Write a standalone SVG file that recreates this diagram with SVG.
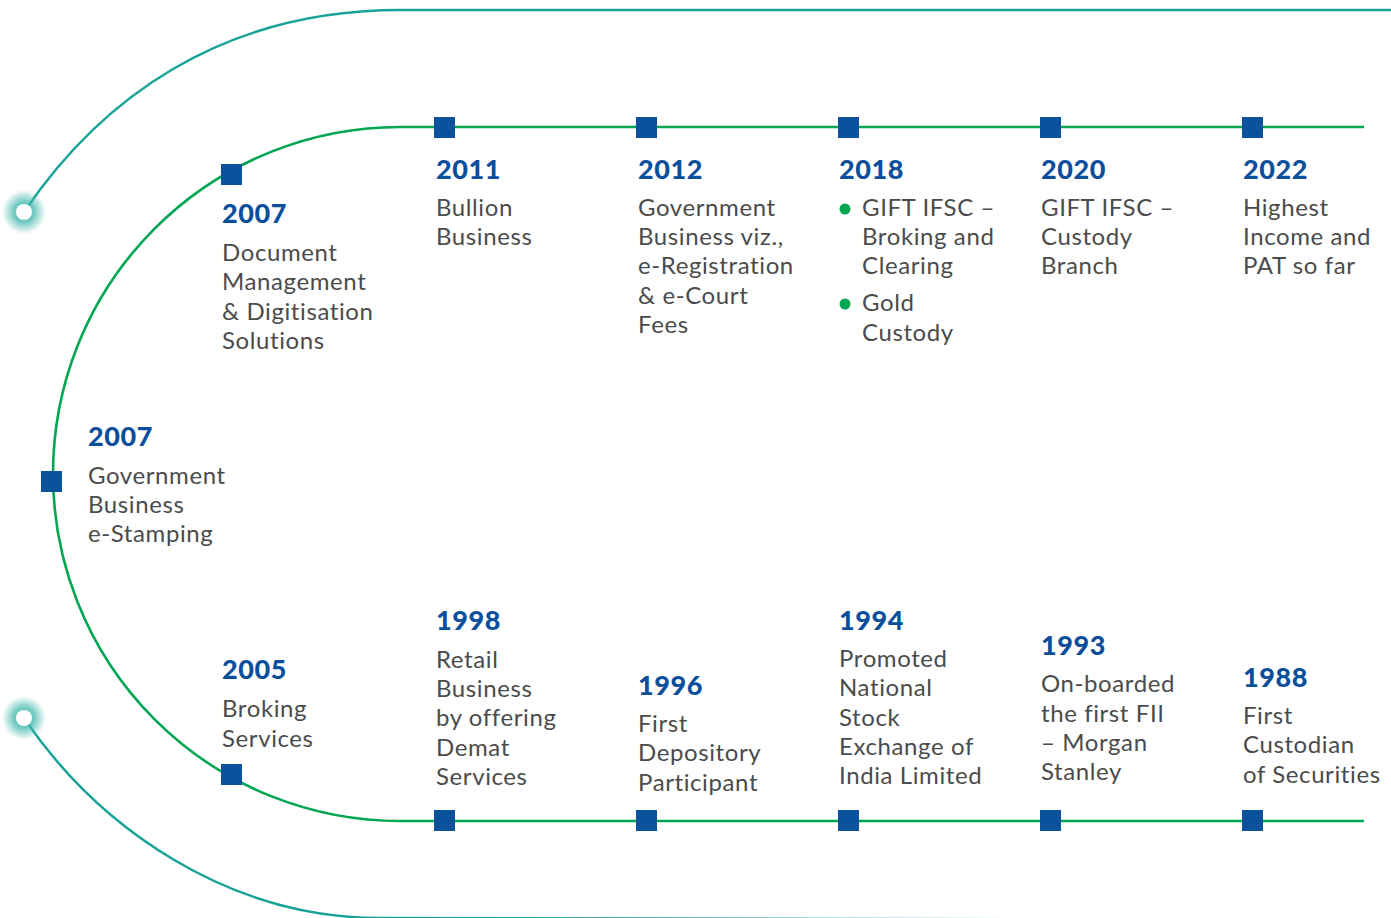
<svg xmlns="http://www.w3.org/2000/svg" width="1391" height="918" viewBox="0 0 1391 918">
<defs>
<radialGradient id="glow" cx="0.5" cy="0.5" r="0.5">
<stop offset="0" stop-color="#3fb7ab" stop-opacity="0.9"/>
<stop offset="0.45" stop-color="#3fb7ab" stop-opacity="0.75"/>
<stop offset="1" stop-color="#3fb7ab" stop-opacity="0"/>
</radialGradient>
</defs>
<style>
.teal{fill:none;stroke:#17a398;stroke-width:2.5}
.green{fill:none;stroke:#00a651;stroke-width:2.6}
.sq{fill:#0b519c}
.yr{font-family:Lato,"Liberation Sans",sans-serif;font-weight:900;font-size:27px;fill:#0b4f9c;letter-spacing:0.6px}
.tx{font-family:Lato,"Liberation Sans",sans-serif;font-size:24px;fill:#4b4b4b;letter-spacing:0.6px}
.dot{fill:#00a651}
</style>
<rect width="1391" height="918" fill="#ffffff"/>
<g id="connectors">
<path class="teal" d="M 24 212 C 100 100 220 10 400 10 L 1391 10"/>
<path class="teal" d="M 24 718 C 100 830 230 918 380 918 L 1391 920"/>
<path class="green" d="M 1364 127 L 400 127 A 347 347 0 0 0 400 821 L 1364 821"/>
</g>
<g id="start-top">
<circle cx="24" cy="212" r="22" fill="url(#glow)"/>
<circle cx="24" cy="212" r="8" fill="#ffffff"/>
</g>
<g id="start-bottom">
<circle cx="24" cy="718" r="22" fill="url(#glow)"/>
<circle cx="24" cy="718" r="8" fill="#ffffff"/>
</g>
<g id="n2007-doc">
<rect class="sq" x="221" y="164" width="21" height="21"/>
<text class="yr" x="222" y="223">2007</text>
<text class="tx" x="222" y="261">Document</text>
<text class="tx" x="222" y="290">Management</text>
<text class="tx" x="222" y="320">&amp; Digitisation</text>
<text class="tx" x="222" y="349">Solutions</text>
</g>
<g id="n2011">
<rect class="sq" x="434" y="117" width="21" height="21"/>
<text class="yr" x="436" y="179">2011</text>
<text class="tx" x="436" y="216">Bullion</text>
<text class="tx" x="436" y="245">Business</text>
</g>
<g id="n2012">
<rect class="sq" x="636" y="117" width="21" height="21"/>
<text class="yr" x="638" y="179">2012</text>
<text class="tx" x="638" y="216">Government</text>
<text class="tx" x="638" y="245">Business viz.,</text>
<text class="tx" x="638" y="274">e-Registration</text>
<text class="tx" x="638" y="304">&amp; e-Court</text>
<text class="tx" x="638" y="333">Fees</text>
</g>
<g id="n2018">
<rect class="sq" x="838" y="117" width="21" height="21"/>
<text class="yr" x="839" y="179">2018</text>
<circle class="dot" cx="845" cy="209" r="5.5"/>
<text class="tx" x="862" y="216">GIFT IFSC –</text>
<text class="tx" x="862" y="245">Broking and</text>
<text class="tx" x="862" y="274">Clearing</text>
<circle class="dot" cx="845" cy="304" r="5.5"/>
<text class="tx" x="862" y="311">Gold</text>
<text class="tx" x="862" y="341">Custody</text>
</g>
<g id="n2020">
<rect class="sq" x="1040" y="117" width="21" height="21"/>
<text class="yr" x="1041" y="179">2020</text>
<text class="tx" x="1041" y="216">GIFT IFSC –</text>
<text class="tx" x="1041" y="245">Custody</text>
<text class="tx" x="1041" y="274">Branch</text>
</g>
<g id="n2022">
<rect class="sq" x="1242" y="117" width="21" height="21"/>
<text class="yr" x="1243" y="179">2022</text>
<text class="tx" x="1243" y="216">Highest</text>
<text class="tx" x="1243" y="245">Income and</text>
<text class="tx" x="1243" y="274">PAT so far</text>
</g>
<g id="n2007-stamp">
<rect class="sq" x="41" y="471" width="21" height="21"/>
<text class="yr" x="88" y="446">2007</text>
<text class="tx" x="88" y="484">Government</text>
<text class="tx" x="88" y="513">Business</text>
<text class="tx" x="88" y="542">e-Stamping</text>
</g>
<g id="n2005">
<rect class="sq" x="221" y="764" width="21" height="21"/>
<text class="yr" x="222" y="679">2005</text>
<text class="tx" x="222" y="717">Broking</text>
<text class="tx" x="222" y="747">Services</text>
</g>
<g id="n1998">
<rect class="sq" x="434" y="810" width="21" height="21"/>
<text class="yr" x="436" y="630">1998</text>
<text class="tx" x="436" y="668">Retail</text>
<text class="tx" x="436" y="697">Business</text>
<text class="tx" x="436" y="726">by offering</text>
<text class="tx" x="436" y="756">Demat</text>
<text class="tx" x="436" y="785">Services</text>
</g>
<g id="n1996">
<rect class="sq" x="636" y="810" width="21" height="21"/>
<text class="yr" x="638" y="695">1996</text>
<text class="tx" x="638" y="732">First</text>
<text class="tx" x="638" y="761">Depository</text>
<text class="tx" x="638" y="791">Participant</text>
</g>
<g id="n1994">
<rect class="sq" x="838" y="810" width="21" height="21"/>
<text class="yr" x="839" y="630">1994</text>
<text class="tx" x="839" y="667">Promoted</text>
<text class="tx" x="839" y="696">National</text>
<text class="tx" x="839" y="726">Stock</text>
<text class="tx" x="839" y="755">Exchange of</text>
<text class="tx" x="839" y="784">India Limited</text>
</g>
<g id="n1993">
<rect class="sq" x="1040" y="810" width="21" height="21"/>
<text class="yr" x="1041" y="655">1993</text>
<text class="tx" x="1041" y="692">On-boarded</text>
<text class="tx" x="1041" y="722">the first FII</text>
<text class="tx" x="1041" y="751">– Morgan</text>
<text class="tx" x="1041" y="780">Stanley</text>
</g>
<g id="n1988">
<rect class="sq" x="1242" y="810" width="21" height="21"/>
<text class="yr" x="1243" y="687">1988</text>
<text class="tx" x="1243" y="724">First</text>
<text class="tx" x="1243" y="753">Custodian</text>
<text class="tx" x="1243" y="783">of Securities</text>
</g>
</svg>
